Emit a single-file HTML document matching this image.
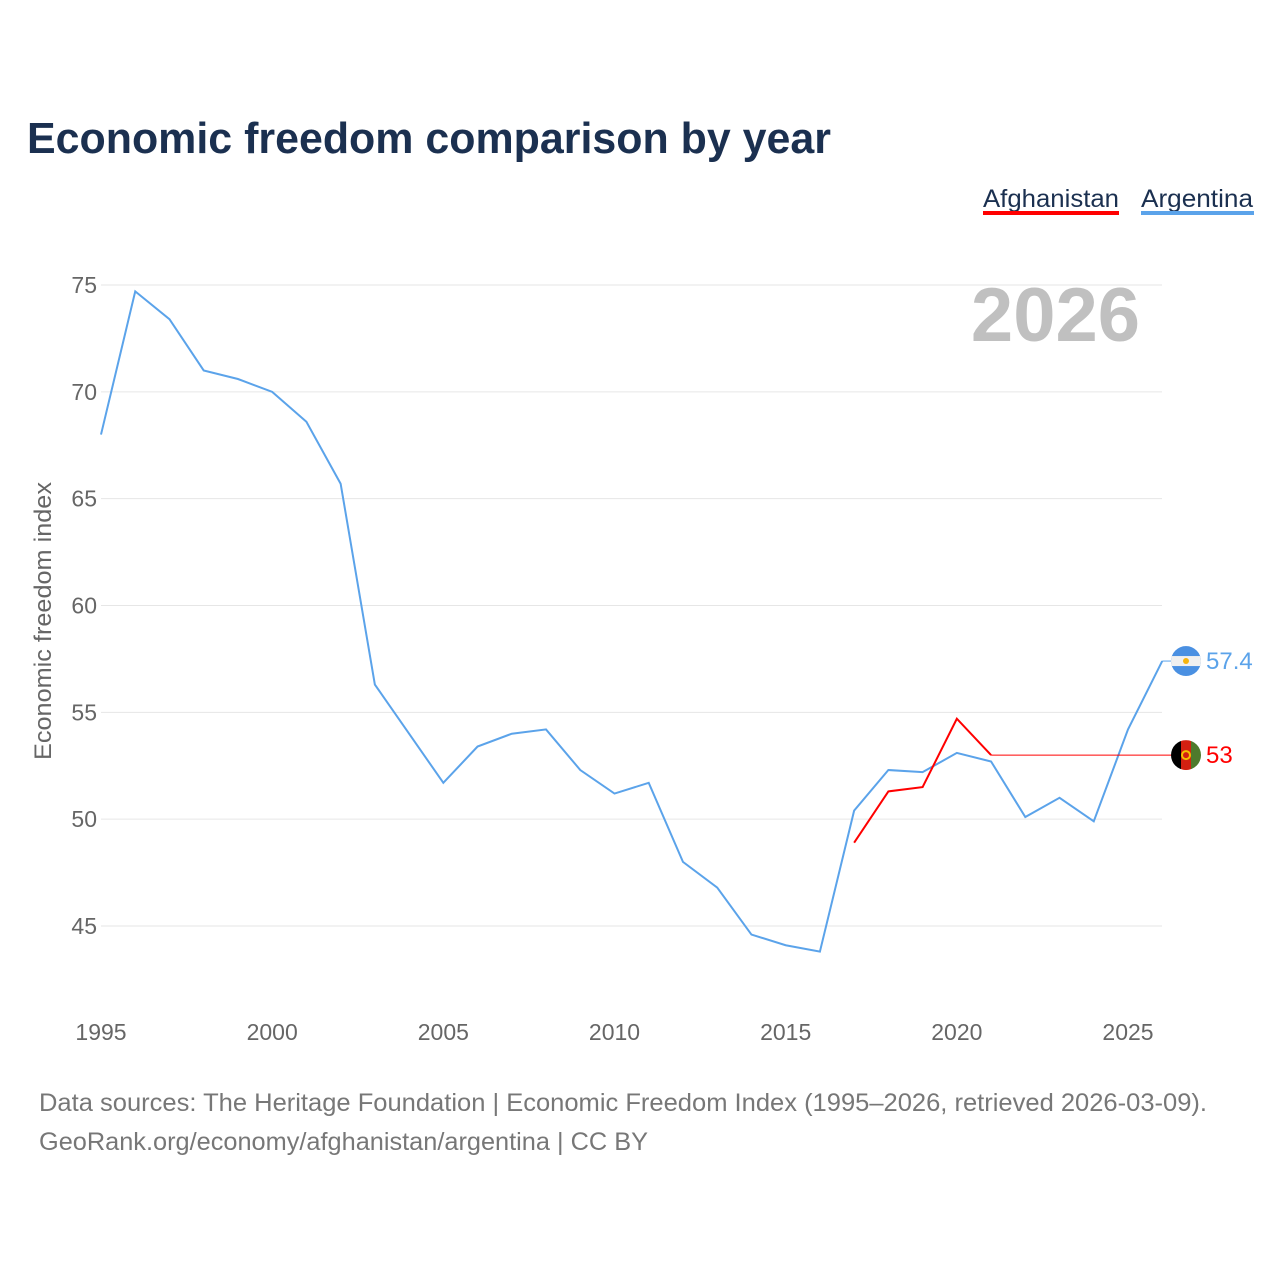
<!DOCTYPE html>
<html><head><meta charset="utf-8"><style>
body{margin:0;background:#fff;width:1280px;height:1280px;overflow:hidden;font-family:"Liberation Sans",sans-serif}
</style></head><body>
<svg id="chart" width="1280" height="1280" xmlns="http://www.w3.org/2000/svg" font-family="Liberation Sans, sans-serif">
<text x="27" y="153" font-size="44" font-weight="bold" fill="#1b3050" textLength="804" lengthAdjust="spacingAndGlyphs">Economic freedom comparison by year</text>
<g><text x="983" y="207" font-size="25" fill="#1b3050" textLength="136" lengthAdjust="spacingAndGlyphs">Afghanistan</text><rect x="983" y="211" width="136" height="4" fill="#ff0000"/></g>
<g><text x="1141" y="207" font-size="25" fill="#1b3050" textLength="112" lengthAdjust="spacingAndGlyphs">Argentina</text><rect x="1141" y="211" width="113" height="4" fill="#5ba3ea"/></g>
<text x="1140" y="341" text-anchor="end" font-size="76" font-weight="bold" fill="#c0c0c0">2026</text>
<text transform="translate(51,621) rotate(-90)" text-anchor="middle" font-size="24" fill="#666" textLength="278" lengthAdjust="spacingAndGlyphs">Economic freedom index</text>
<g id="grid"></g><g id="xt"></g><g id="series"></g>
<text x="39" y="1111" font-size="25" fill="#777" textLength="1168" lengthAdjust="spacingAndGlyphs">Data sources: The Heritage Foundation | Economic Freedom Index (1995–2026, retrieved 2026-03-09).</text>
<text x="39" y="1150" font-size="25" fill="#777" textLength="609" lengthAdjust="spacingAndGlyphs">GeoRank.org/economy/afghanistan/argentina | CC BY</text>
</svg>
<script>
const years=[1995,1996,1997,1998,1999,2000,2001,2002,2003,2004,2005,2006,2007,2008,2009,2010,2011,2012,2013,2014,2015,2016,2017,2018,2019,2020,2021,2022,2023,2024,2025,2026];
const argentina=[68.0,74.7,73.4,71.0,70.6,70.0,68.6,65.7,56.3,54.0,51.7,53.4,54.0,54.2,52.3,51.2,51.7,48.0,46.8,44.6,44.1,43.8,50.4,52.3,52.2,53.1,52.7,50.1,51.0,49.9,54.2,57.4];
const afgYears=[2017,2018,2019,2020,2021];
const afghanistan=[48.9,51.3,51.5,54.7,53.0];
const yTicks=[45,50,55,60,65,70,75];
const xTicks=[1995,2000,2005,2010,2015,2020,2025];
const NS="http://www.w3.org/2000/svg";
const X=y=>101+(y-1995)*(1027/30);
const Y=v=>285+(75-v)*(641/30);
function mk(t,a,p){const e=document.createElementNS(NS,t);for(const k in a)e.setAttribute(k,a[k]);p.appendChild(e);return e;}
const grid=document.getElementById('grid'),xt=document.getElementById('xt'),ser=document.getElementById('series');
yTicks.forEach(v=>{
 const l=mk('line',{x1:101,x2:1162,y1:Y(v),y2:Y(v),stroke:'#e6e6e6','stroke-width':1},grid);
 
 
 const t=mk('text',{x:97,y:Y(v)+8,'text-anchor':'end','font-size':23,fill:'#666'},grid);t.textContent=v;
 
 
});
xTicks.forEach(y=>{
 const t=mk('text',{x:X(y),y:1040,'text-anchor':'middle','font-size':23,fill:'#666'},xt);t.textContent=y;
 
 
});
const pa=mk('polyline',{points:years.map((y,i)=>X(y)+','+Y(argentina[i])).join(' '),fill:'none',stroke:'#5ba3ea','stroke-width':2},ser);


const pf=mk('polyline',{points:afgYears.map((y,i)=>X(y)+','+Y(afghanistan[i])).join(' '),fill:'none',stroke:'#ff0000','stroke-width':2},ser);


const lastA=argentina[argentina.length-1],lastF=afghanistan[afghanistan.length-1];
const ca=mk('line',{x1:X(2026),x2:1175,y1:Y(lastA),y2:Y(lastA),stroke:'#5ba3ea','stroke-width':1},ser);


const cf=mk('line',{x1:X(afgYears[afgYears.length-1]),x2:1175,y1:Y(lastF),y2:Y(lastF),stroke:'#ff0000','stroke-width':1},ser);


const fa=mk('g',{},ser);


const ya=Y(lastA);
const cpa=mk('clipPath',{id:'ca'},fa);mk('circle',{cx:1186,cy:ya,r:15},cpa);
const ga=mk('g',{'clip-path':'url(#ca)'},fa);
mk('rect',{x:1171,y:ya-15,width:30,height:30,fill:'#4a90e2'},ga);
mk('rect',{x:1171,y:ya-5,width:30,height:10,fill:'#f0f0f0'},ga);
mk('circle',{cx:1186,cy:ya,r:3,fill:'#f6b40e'},fa);
const ff=mk('g',{},ser);


const yf=Y(lastF);
const cp=mk('clipPath',{id:'cf'},ff);mk('circle',{cx:1186,cy:yf,r:15},cp);
const gf=mk('g',{'clip-path':'url(#cf)'},ff);
mk('rect',{x:1171,y:yf-15,width:10,height:30,fill:'#000'},gf);
mk('rect',{x:1181,y:yf-15,width:10,height:30,fill:'#d32011'},gf);
mk('rect',{x:1191,y:yf-15,width:10,height:30,fill:'#4e7a2c'},gf);
mk('circle',{cx:1186,cy:yf,r:4,fill:'none',stroke:'#f6c000','stroke-width':2},ff);
const la=mk('text',{x:1206,y:ya+8,'font-size':24,fill:'#5ba3ea'},ser);la.textContent=lastA;


const lf=mk('text',{x:1206,y:yf+8,'font-size':24,fill:'#ff0000'},ser);lf.textContent=lastF;


</script>
</body></html>
